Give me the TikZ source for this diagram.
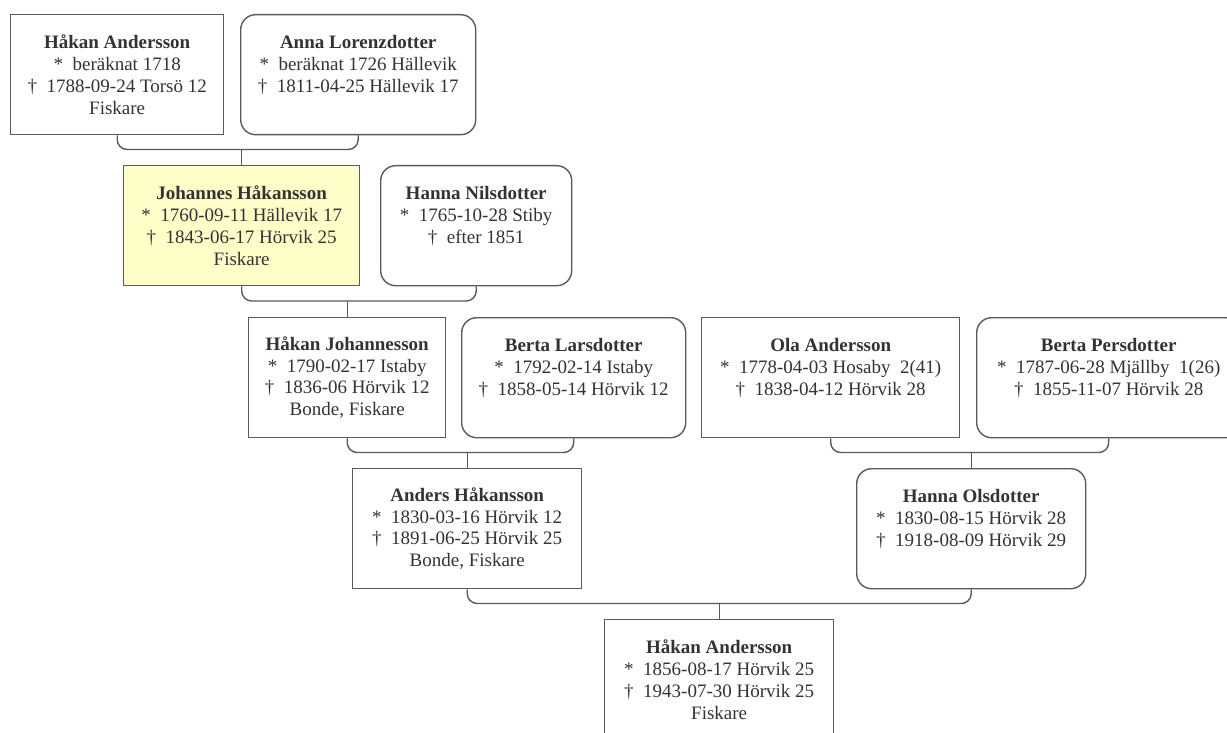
\documentclass[tikz,border=0pt]{standalone}
\usepackage{fontspec}
\setmainfont{Liberation Serif}
\definecolor{boxline}{HTML}{5A5A5A}
\definecolor{txt}{HTML}{333333}
\definecolor{hilite}{HTML}{FFFDC8}
\newcommand{\emptyline}{\phantom{Fiskare}}
\tikzset{
  person/.style={draw=boxline, line width=1.4pt, fill=white, anchor=north west, inner sep=0pt,
    align=center, text=txt, font=\fontsize{19}{21.7}\selectfont},
  female/.style={person, rounded corners=15pt},
  conn/.style={draw=boxline, line width=1.4pt, rounded corners=10pt}
}
\begin{document}
\begin{tikzpicture}[x=1pt,y=-1pt]
\clip (0,0) rectangle (1227,733);
\fill[white] (0,0) rectangle (1227,733);
% generation 1
\node[person, minimum width=213pt, minimum height=120pt] (b1) at (10,14)
  {\textbf{Håkan Andersson}\\ *\ \ beräknat 1718\\ †\ \ 1788-09-24 Torsö 12\\ Fiskare};
\node[female, minimum width=235pt, minimum height=120pt] (b2) at (240,14)
  {\textbf{Anna Lorenzdotter}\\ *\ \ beräknat 1726 Hällevik\\ †\ \ 1811-04-25 Hällevik 17\\ \emptyline};
% generation 2
\node[person, fill=hilite, minimum width=236pt, minimum height=120pt] (b3) at (123,165)
  {\textbf{Johannes Håkansson}\\ *\ \ 1760-09-11 Hällevik 17\\ †\ \ 1843-06-17 Hörvik 25\\ Fiskare};
\node[female, minimum width=191pt, minimum height=120pt] (b4) at (380,165)
  {\textbf{Hanna Nilsdotter}\\ *\ \ 1765-10-28 Stiby\\ †\ \ efter 1851\\ \emptyline};
% generation 3
\node[person, minimum width=197pt, minimum height=120pt] (b5) at (248,317)
  {\textbf{Håkan Johannesson}\\ *\ \ 1790-02-17 Istaby\\ †\ \ 1836-06 Hörvik 12\\ Bonde, Fiskare};
\node[female, minimum width=224pt, minimum height=120pt] (b6) at (461,317)
  {\textbf{Berta Larsdotter}\\ *\ \ 1792-02-14 Istaby\\ †\ \ 1858-05-14 Hörvik 12\\ \emptyline};
\node[person, minimum width=258pt, minimum height=120pt] (b7) at (701,317)
  {\textbf{Ola Andersson}\\ *\ \ 1778-04-03 Hosaby\ \ 2(41)\\ †\ \ 1838-04-12 Hörvik 28\\ \emptyline};
\node[female, minimum width=264pt, minimum height=120pt] (b8) at (976,317)
  {\textbf{Berta Persdotter}\\ *\ \ 1787-06-28 Mjällby\ \ 1(26)\\ †\ \ 1855-11-07 Hörvik 28\\ \emptyline};
% generation 4
\node[person, minimum width=229pt, minimum height=120pt] (b9) at (352,468)
  {\textbf{Anders Håkansson}\\ *\ \ 1830-03-16 Hörvik 12\\ †\ \ 1891-06-25 Hörvik 25\\ Bonde, Fiskare};
\node[female, minimum width=229pt, minimum height=120pt] (b10) at (856,468)
  {\textbf{Hanna Olsdotter}\\ *\ \ 1830-08-15 Hörvik 28\\ †\ \ 1918-08-09 Hörvik 29\\ \emptyline};
% generation 5
\node[person, minimum width=229pt, minimum height=120pt] (b11) at (604,619)
  {\textbf{Håkan Andersson}\\ *\ \ 1856-08-17 Hörvik 25\\ †\ \ 1943-07-30 Hörvik 25\\ Fiskare};
% junctions, straight above each child
\path (b3.north) ++(0,-15.5) coordinate (j1);
\path (b5.north) ++(0,-16) coordinate (j2);
\path (b9.north) ++(0,-15.5) coordinate (j3);
\path (b10.north) ++(0,-15.5) coordinate (j4);
\path (b11.north) ++(0,-15.5) coordinate (j5);
% connectors
\path[conn] (b1.south) |- (j1) -| (b2.south);
\path[conn] (j1) -- (b3.north);
\path[conn] (b3.south) |- (j2) -| (b4.south);
\path[conn] (j2) -- (b5.north);
\path[conn] (b5.south) |- (j3) -| (b6.south);
\path[conn] (j3) -- (b9.north);
\path[conn] (b7.south) |- (j4) -| (b8.south);
\path[conn] (j4) -- (b10.north);
\path[conn] (b9.south) |- (j5) -| (b10.south);
\path[conn] (j5) -- (b11.north);
\end{tikzpicture}
\end{document}
